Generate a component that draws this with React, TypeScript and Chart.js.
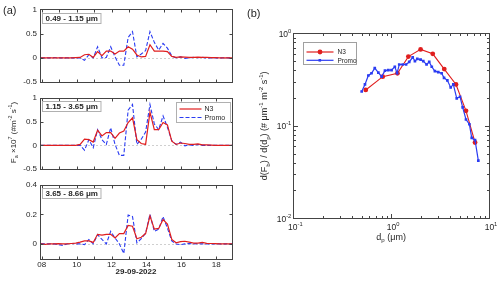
import { useEffect, useRef } from 'react';
import { Chart, registerables } from 'chart.js';
Chart.register(...registerables);

// ---------- data ----------
const TIMES = [7.95, 8.2, 8.45, 8.7, 8.95, 9.2, 9.45, 9.7, 9.95, 10.2, 10.45, 10.7, 10.95, 11.2, 11.45, 11.7, 11.95, 12.2, 12.45, 12.7, 12.95, 13.2, 13.45, 13.7, 13.95, 14.2, 14.45, 14.7, 14.95, 15.2, 15.45, 15.7, 15.95, 16.2, 16.45, 16.7, 16.95, 17.2, 17.45, 17.7, 17.95, 18.2, 18.45, 18.7, 18.95];

const N3_FINE = [0, 0, 0, 0, 0, 0, 0, 0, 0.005, 0.01, 0.065, 0.075, 0.01, 0.13, 0.045, 0.14, 0.14, 0.08, 0.14, 0.14, 0.23, 0.18, 0.06, 0.02, 0.03, 0.27, 0.14, 0.14, 0.14, 0.13, 0.03, 0.01, 0.02, 0.015, 0.01, 0.01, 0.015, 0.01, 0.01, 0.005, 0.005, 0, 0, 0, 0];
const PROMO_FINE = [0, 0, 0, 0.005, 0, 0, 0, 0, 0, 0, -0.05, 0.065, 0, 0.23, 0, 0.01, 0.23, 0.02, -0.15, -0.15, 0.42, 0.54, 0.02, 0.08, 0.15, 0.54, 0.32, 0.16, 0.3, 0.2, 0.04, 0, 0.02, -0.01, 0, 0.01, 0.005, 0.01, 0, 0, 0, 0, 0, 0, 0];

const N3_MID = [0, 0, 0, 0, 0, 0, 0, 0, 0, 0.02, 0.13, 0.12, 0.07, 0.32, 0.2, 0.27, 0.27, 0.15, 0.26, 0.3, 0.48, 0.58, 0.12, 0.04, 0.02, 0.7, 0.33, 0.33, 0.48, 0.43, 0.09, 0.02, 0.05, 0.04, 0.02, 0.02, 0.03, 0.01, 0.01, 0.005, 0, 0, 0, 0, 0];
const PROMO_MID = [0, 0, 0, 0, 0, 0, 0, 0, 0, 0, -0.1, 0.12, -0.05, 0.33, 0.12, 0.02, 0.37, 0.02, -0.21, -0.21, 0.74, 0.86, 0.02, 0.13, 0.28, 0.86, 0.45, 0.33, 0.62, 0.38, 0.1, 0.02, 0.07, -0.01, 0.01, 0, 0.02, 0, 0, 0, 0, 0, 0, 0, 0];

const N3_COARSE = [0, -0.003, 0, 0, 0.002, 0, 0, 0.003, 0.005, 0.012, 0.02, 0.02, 0.01, 0.065, 0.06, 0.065, 0.065, 0.04, 0.07, 0.07, 0.125, 0.12, 0.035, 0.045, 0.07, 0.19, 0.1, 0.105, 0.165, 0.135, 0.03, 0.008, 0.015, 0.018, 0.012, 0.006, 0.005, 0.01, 0.004, 0.003, 0.002, 0, 0, 0, 0];
const PROMO_COARSE = [0.003, 0, 0, 0, -0.005, -0.01, 0, 0.003, 0, 0, -0.005, 0.03, 0, 0.063, 0.03, 0, 0.085, 0.04, 0, -0.065, 0.195, 0.185, 0.007, 0.035, 0.073, 0.2, 0.085, 0.1, 0.185, 0.107, 0.02, 0, -0.005, 0, 0.003, 0, 0.002, 0, 0, 0, 0, 0, 0, 0, 0];

const RANGE_LABELS = ['0.49 - 1.15 \u03bcm', '1.15 - 3.65 \u03bcm', '3.65 - 8.66 \u03bcm'];
const HOUR_TICKS = [8, 9, 10, 11, 12, 13, 14, 15, 16, 17, 18];
const Y_TICKS_FINE = [-0.5, 0, 0.5, 1];
const Y_TICKS_MID = [-0.5, 0, 0.5, 1];
const Y_TICKS_COARSE = [0, 0.2, 0.4];
const DATE_LABEL = '29-09-2022';

const DP_N3 = [0.55, 0.82, 1.16, 1.5, 2.0, 2.66, 3.49, 4.6, 5.82, 7.2];
const FLUX_N3 = [0.244, 0.34, 0.37, 0.56, 0.67, 0.6, 0.41, 0.28, 0.145, 0.066];
const DP_PROMO = [0.5, 0.54, 0.585, 0.63, 0.68, 0.74, 0.8, 0.865, 0.935, 1.01, 1.09, 1.15, 1.21, 1.31, 1.42, 1.53, 1.66, 1.75, 1.85, 2.0, 2.13, 2.3, 2.45, 2.6, 2.8, 3.03, 3.28, 3.47, 3.75, 4.06, 4.32, 4.68, 5.06, 5.38, 5.82, 6.3, 6.66, 7.2, 7.78];
const FLUX_PROMO = [0.235, 0.28, 0.35, 0.37, 0.42, 0.375, 0.34, 0.395, 0.4, 0.4, 0.435, 0.37, 0.46, 0.46, 0.46, 0.49, 0.55, 0.5, 0.53, 0.52, 0.5, 0.46, 0.49, 0.435, 0.39, 0.38, 0.37, 0.33, 0.31, 0.26, 0.28, 0.198, 0.206, 0.158, 0.117, 0.104, 0.074, 0.07, 0.042];
const LOG_X_POWERS = [-1, 0, 1];
const LOG_Y_POWERS = [-2, -1, 0];

// ---------- style ----------
const FONT = '"Liberation Sans", Arial, Helvetica, sans-serif';
const INK = '#262626';
const AXIS = '#444444';
const RED = '#e01e1e';
const BLUE = '#2b3cf2';

type Part = [string, 'n' | 'sup' | 'sub'];

function drawRich(ctx: CanvasRenderingContext2D, parts: Part[], x: number, y: number, align: 'left' | 'center' | 'right', size: number, weight = 'normal') {
  const small = size * 0.68;
  const fontFor = (m: string) => `${weight} ${m === 'n' ? size : small}px ${FONT}`;
  let total = 0;
  const widths = parts.map(([t, m]) => {
    ctx.font = fontFor(m);
    const w = ctx.measureText(t).width;
    total += w;
    return w;
  });
  let cx = align === 'left' ? x : align === 'center' ? x - total / 2 : x - total;
  ctx.textBaseline = 'middle';
  ctx.textAlign = 'left';
  parts.forEach(([t, m], i) => {
    ctx.font = fontFor(m);
    const dy = m === 'sup' ? -size * 0.38 : m === 'sub' ? size * 0.32 : 0;
    ctx.fillText(t, cx, y + dy);
    cx += widths[i];
  });
}

const px = (v: number) => Math.round(v) + 0.5;

interface PanelCfg {
  n3: number[];
  promo: number[];
  label: string;
  yTicks: number[];
  yMin: number;
  yMax: number;
  height: number;
  padTop: number;
  xAxisH: number;
  showX: boolean;
  legend: boolean;
  yTitle: boolean;
  aLabel: boolean;
}

function makeLeftPlugin(cfg: PanelCfg) {
  return {
    id: 'leftDeco',
    beforeDatasetsDraw(chart: any) {
      const { ctx, chartArea: ca, scales } = chart;
      const y0 = px(scales.y.getPixelForValue(0));
      ctx.save();
      ctx.strokeStyle = '#cfcfcf';
      ctx.lineWidth = 1;
      ctx.setLineDash([2, 2]);
      ctx.beginPath();
      ctx.moveTo(ca.left, y0);
      ctx.lineTo(ca.right, y0);
      ctx.stroke();
      ctx.restore();
    },
    afterDatasetsDraw(chart: any) {
      const { ctx, chartArea: ca, scales } = chart;
      ctx.save();
      ctx.strokeStyle = AXIS;
      ctx.lineWidth = 1;
      const L = px(ca.left), R = px(ca.right), T = px(ca.top), B = px(ca.bottom);
      ctx.strokeRect(L, T, R - L, B - T);
      ctx.beginPath();
      HOUR_TICKS.forEach((h) => {
        const x = px(scales.x.getPixelForValue(h));
        ctx.moveTo(x, B); ctx.lineTo(x, B - 3);
        ctx.moveTo(x, T); ctx.lineTo(x, T + 3);
      });
      cfg.yTicks.forEach((v) => {
        const y = px(scales.y.getPixelForValue(v));
        ctx.moveTo(L, y); ctx.lineTo(L + 3, y);
        ctx.moveTo(R, y); ctx.lineTo(R - 3, y);
      });
      ctx.stroke();
      ctx.restore();
    },
    afterDraw(chart: any) {
      const { ctx, chartArea: ca } = chart;
      ctx.save();
      // range label box
      ctx.font = `bold 8px ${FONT}`;
      const tw = ctx.measureText(cfg.label).width;
      const bx = px(ca.left + 2), by = px(ca.top + 3.5);
      ctx.fillStyle = '#ffffff';
      ctx.fillRect(bx, by, tw + 6, 10);
      ctx.strokeStyle = '#b0b0b0';
      ctx.lineWidth = 1;
      ctx.strokeRect(bx, by, tw + 6, 10);
      ctx.fillStyle = INK;
      ctx.textBaseline = 'middle';
      ctx.textAlign = 'left';
      ctx.fillText(cfg.label, bx + 3, by + 5.5);

      if (cfg.legend) {
        const lx = px(ca.right - 56), ly = px(ca.top + 4);
        ctx.fillStyle = '#ffffff';
        ctx.fillRect(lx, ly, 54, 20);
        ctx.strokeStyle = '#b0b0b0';
        ctx.strokeRect(lx, ly, 54, 20);
        const ds = chart.data.datasets;
        [0, 1].forEach((k) => {
          const yy = ly + 6.5 + k * 8.5;
          ctx.strokeStyle = ds[k].borderColor;
          ctx.lineWidth = 1.2;
          ctx.setLineDash(k === 1 ? [4, 2] : []);
          ctx.beginPath();
          ctx.moveTo(lx + 3, yy);
          ctx.lineTo(lx + 25, yy);
          ctx.stroke();
          ctx.setLineDash([]);
          ctx.fillStyle = INK;
          ctx.font = `7px ${FONT}`;
          ctx.fillText(ds[k].label, lx + 28, yy + 0.5);
        });
      }
      ctx.fillStyle = INK;
      if (cfg.yTitle) {
        ctx.save();
        ctx.translate(14, 42.5);
        ctx.rotate(-Math.PI / 2);
        drawRich(ctx, [['F', 'n'], ['a', 'sub'], [' \u00d710', 'n'], ['7', 'sup'], [' (#m', 'n'], ['-2', 'sup'], [' s', 'n'], ['-1', 'sup'], [')', 'n']], 0, 0, 'center', 8);
        ctx.restore();
      }
      if (cfg.aLabel) {
        ctx.font = `11px ${FONT}`;
        ctx.textAlign = 'left';
        ctx.textBaseline = 'middle';
        ctx.fillText('(a)', 3, 11);
      }
      if (cfg.showX) {
        ctx.font = `bold 8px ${FONT}`;
        ctx.textAlign = 'center';
        ctx.textBaseline = 'middle';
        ctx.fillText(DATE_LABEL, (ca.left + ca.right) / 2, 95);
      }
      ctx.restore();
    },
  };
}

function makeLeftChart(canvas: HTMLCanvasElement, cfg: PanelCfg) {
  return new Chart(canvas, {
    type: 'line',
    data: {
      datasets: [
        { label: 'N3', data: TIMES.map((t, i) => ({ x: t, y: cfg.n3[i] })), borderColor: RED, borderWidth: 1.2, pointRadius: 0, tension: 0, order: 1 },
        { label: 'Promo', data: TIMES.map((t, i) => ({ x: t, y: cfg.promo[i] })), borderColor: BLUE, borderWidth: 1.1, borderDash: [4, 2], pointRadius: 0, tension: 0, order: 2 },
      ],
    },
    options: {
      responsive: false,
      maintainAspectRatio: false,
      animation: false,
      events: [],
      layout: { padding: { top: cfg.padTop, right: 13, left: 0, bottom: 0 } },
      plugins: { legend: { display: false }, tooltip: { enabled: false } },
      scales: {
        x: {
          type: 'linear',
          min: 7.9,
          max: 18.9,
          grid: { display: false, drawTicks: false },
          border: { display: false },
          ticks: {
            display: cfg.showX,
            padding: 1,
            autoSkip: false,
            maxRotation: 0,
            color: INK,
            font: { family: FONT, size: 8 },
            callback: (v: any) => (Number(v) % 2 === 0 ? String(v).padStart(2, '0') : ''),
          },
          afterBuildTicks: (s: any) => { s.ticks = HOUR_TICKS.map((v) => ({ value: v })); },
          afterFit: (s: any) => { s.height = cfg.xAxisH; },
        },
        y: {
          min: cfg.yMin,
          max: cfg.yMax,
          grid: { display: false, drawTicks: false },
          border: { display: false },
          ticks: { padding: 3, color: INK, font: { family: FONT, size: 8 }, callback: (v: any) => String(v) },
          afterBuildTicks: (s: any) => { s.ticks = cfg.yTicks.map((v) => ({ value: v })); },
          afterFit: (s: any) => { s.width = 40; },
        },
      },
    } as any,
    plugins: [makeLeftPlugin(cfg)],
  });
}

const rightPlugin = {
  id: 'rightDeco',
  afterDatasetsDraw(chart: any) {
    const { ctx, chartArea: ca, scales } = chart;
    const L = px(ca.left), R = px(ca.right), T = px(ca.top), B = px(ca.bottom);
    ctx.save();
    ctx.strokeStyle = AXIS;
    ctx.lineWidth = 1;
    ctx.strokeRect(L, T, R - L, B - T);
    ctx.beginPath();
    for (let p = -1; p < 1; p++) {
      for (let m = 1; m <= 10; m++) {
        const v = m * Math.pow(10, p);
        const x = px(scales.x.getPixelForValue(v));
        const len = m === 1 || m === 10 ? 4.5 : 2.5;
        ctx.moveTo(x, B); ctx.lineTo(x, B - len);
        ctx.moveTo(x, T); ctx.lineTo(x, T + len);
      }
    }
    for (let p = -2; p < 0; p++) {
      for (let m = 1; m <= 10; m++) {
        const v = m * Math.pow(10, p);
        const y = px(scales.y.getPixelForValue(v));
        const len = m === 1 || m === 10 ? 4.5 : 2.5;
        ctx.moveTo(L, y); ctx.lineTo(L + len, y);
        ctx.moveTo(R, y); ctx.lineTo(R - len, y);
      }
    }
    ctx.stroke();
    ctx.restore();
  },
  afterDraw(chart: any) {
    const { ctx, chartArea: ca, scales } = chart;
    ctx.save();
    ctx.fillStyle = INK;
    LOG_X_POWERS.forEach((p) => {
      const x = scales.x.getPixelForValue(Math.pow(10, p));
      drawRich(ctx, [['10', 'n'], [String(p), 'sup']], x + 2, ca.bottom + 9, 'center', 8.5);
    });
    LOG_Y_POWERS.forEach((p) => {
      const y = scales.y.getPixelForValue(Math.pow(10, p));
      drawRich(ctx, [['10', 'n'], [String(p), 'sup']], ca.left - 2, y + 1, 'right', 8.5);
    });
    drawRich(ctx, [['d', 'n'], ['p', 'sub'], [' (\u03bcm)', 'n']], (ca.left + ca.right) / 2, ca.bottom + 19, 'center', 9);
    ctx.save();
    ctx.translate(20, (ca.top + ca.bottom) / 2);
    ctx.rotate(-Math.PI / 2);
    drawRich(ctx, [['d(F', 'n'], ['b', 'sub'], [') / d(d', 'n'], ['p', 'sub'], [') (# \u03bcm', 'n'], ['-1', 'sup'], [' m', 'n'], ['-2', 'sup'], [' s', 'n'], ['-1', 'sup'], [')', 'n']], 0, 0, 'center', 9);
    ctx.restore();

    // legend
    const lx = px(57.5), ly = px(41.5);
    ctx.fillStyle = '#ffffff';
    ctx.fillRect(lx, ly, 53, 22);
    ctx.strokeStyle = '#a0a0a0';
    ctx.lineWidth = 1;
    ctx.strokeRect(lx, ly, 53, 22);
    const ds = chart.data.datasets;
    [0, 1].forEach((k) => {
      const yy = ly + 9.5 + k * 8.3;
      ctx.strokeStyle = ds[k].borderColor;
      ctx.lineWidth = 1.2;
      ctx.beginPath();
      ctx.moveTo(lx + 3, yy);
      ctx.lineTo(lx + 30, yy);
      ctx.stroke();
      ctx.fillStyle = ds[k].borderColor;
      if (k === 0) {
        ctx.beginPath();
        ctx.arc(lx + 16.5, yy, 2.4, 0, Math.PI * 2);
        ctx.fill();
      } else {
        ctx.fillRect(lx + 15, yy - 1.3, 2.6, 2.6);
      }
      ctx.fillStyle = INK;
      ctx.font = `6.5px ${FONT}`;
      ctx.textAlign = 'left';
      ctx.textBaseline = 'middle';
      ctx.fillText(ds[k].label, lx + 34, yy + 0.5);
    });
    ctx.fillStyle = INK;
    ctx.font = `11px ${FONT}`;
    ctx.textAlign = 'left';
    ctx.textBaseline = 'middle';
    ctx.fillText('(b)', 2, 14);
    ctx.restore();
  },
};

function makeRightChart(canvas: HTMLCanvasElement) {
  const logTicks = (lo: number, hi: number) => {
    const out: { value: number }[] = [];
    for (let p = lo; p <= hi; p++) out.push({ value: Math.pow(10, p) });
    return out;
  };
  return new Chart(canvas, {
    type: 'line',
    data: {
      datasets: [
        { label: 'N3', data: DP_N3.map((d, i) => ({ x: d, y: FLUX_N3[i] })), borderColor: RED, backgroundColor: RED, borderWidth: 1.1, pointRadius: 2.4, pointStyle: 'circle', pointBorderWidth: 0, pointBackgroundColor: RED, tension: 0, order: 2 },
        { label: 'Promo', data: DP_PROMO.map((d, i) => ({ x: d, y: FLUX_PROMO[i] })), borderColor: BLUE, backgroundColor: BLUE, borderWidth: 1.2, pointRadius: 1.9, pointStyle: 'rect', pointBorderWidth: 0, pointBackgroundColor: BLUE, tension: 0, order: 1 },
      ],
    },
    options: {
      responsive: false,
      maintainAspectRatio: false,
      animation: false,
      events: [],
      layout: { padding: { top: 33.3, right: 11, left: 0, bottom: 0 } },
      plugins: { legend: { display: false }, tooltip: { enabled: false } },
      scales: {
        x: {
          type: 'logarithmic',
          min: 0.1,
          max: 10,
          grid: { display: false, drawTicks: false },
          border: { display: false },
          ticks: { display: false },
          afterBuildTicks: (s: any) => { s.ticks = logTicks(-1, 1); },
          afterFit: (s: any) => { s.height = 63.7; },
        },
        y: {
          type: 'logarithmic',
          min: 0.01,
          max: 1,
          grid: { display: false, drawTicks: false },
          border: { display: false },
          ticks: { display: false },
          afterBuildTicks: (s: any) => { s.ticks = logTicks(-2, 0); },
          afterFit: (s: any) => { s.width = 48.3; },
        },
      },
    } as any,
    plugins: [rightPlugin],
  });
}

export default function App() {
  const c1 = useRef<HTMLCanvasElement>(null);
  const c2 = useRef<HTMLCanvasElement>(null);
  const c3 = useRef<HTMLCanvasElement>(null);
  const c4 = useRef<HTMLCanvasElement>(null);

  useEffect(() => {
    const panels: PanelCfg[] = [
      { n3: N3_FINE, promo: PROMO_FINE, label: RANGE_LABELS[0], yTicks: Y_TICKS_FINE, yMin: -0.5, yMax: 1, height: 90, padTop: 9.3, xAxisH: 5.7, showX: false, legend: false, yTitle: false, aLabel: true },
      { n3: N3_MID, promo: PROMO_MID, label: RANGE_LABELS[1], yTicks: Y_TICKS_MID, yMin: -0.5, yMax: 1, height: 87, padTop: 5, xAxisH: 6, showX: false, legend: true, yTitle: true, aLabel: false },
      { n3: N3_COARSE, promo: PROMO_COARSE, label: RANGE_LABELS[2], yTicks: Y_TICKS_COARSE, yMin: -0.1, yMax: 0.4, height: 105, padTop: 5.7, xAxisH: 23.3, showX: true, legend: false, yTitle: false, aLabel: false },
    ];
    const charts: Chart[] = [];
    [c1, c2, c3].forEach((r, i) => {
      if (r.current) charts.push(makeLeftChart(r.current, panels[i]));
    });
    if (c4.current) charts.push(makeRightChart(c4.current));
    return () => charts.forEach((c) => c.destroy());
  }, []);

  const abs = (left: number, top: number) => ({ position: 'absolute' as const, left, top });
  return (
    <div style={{ position: 'fixed', left: 0, top: 0, width: 500, height: 282, background: '#ffffff', overflow: 'hidden' }}>
      <canvas ref={c1} width={245} height={90} style={abs(0, 0)} />
      <canvas ref={c2} width={245} height={87} style={abs(0, 90)} />
      <canvas ref={c3} width={245} height={105} style={abs(0, 177)} />
      <canvas ref={c4} width={255} height={282} style={abs(245, 0)} />
    </div>
  );
}
